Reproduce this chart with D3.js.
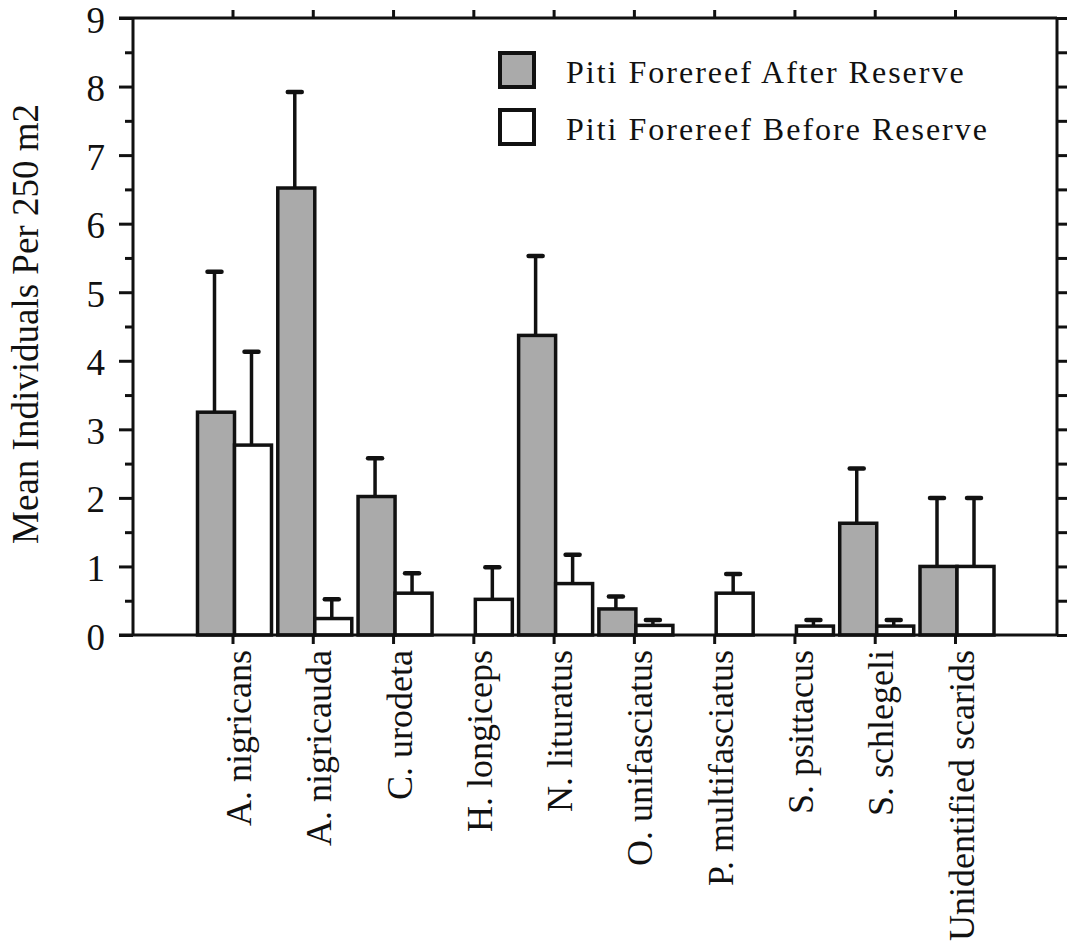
<!DOCTYPE html>
<html>
<head>
<meta charset="utf-8">
<script src="https://cdn.jsdelivr.net/npm/d3@7"></script>
<style>
  body { margin: 0; background: #fff; }
  text { font-family: "Liberation Serif", "Times New Roman", serif; fill: #111; }
</style>
</head>
<body>
<div id="chart"></div>
<script>
// species along the x axis
const species = ["A. nigricans", "A. nigricauda", "C. urodeta", "H. longiceps", "N. lituratus",
    "O. unifasciatus", "P. multifasciatus", "S. psittacus", "S. schlegeli", "Unidentified scarids"];

const seriesNames = ["Piti Forereef After Reserve", "Piti Forereef Before Reserve"];

// mean individuals per 250 m2 and the error (upper bar only)
const afterMean = [3.25, 6.52, 2.02, 0, 4.37, 0.38, 0, 0, 1.63, 1.0];
const afterErr = [2.05, 1.40, 0.56, 0, 1.16, 0.18, 0, 0, 0.80, 1.0];
const beforeMean = [2.77, 0.24, 0.61, 0.52, 0.75, 0.14, 0.61, 0.13, 0.13, 1.0];
const beforeErr = [1.36, 0.28, 0.29, 0.47, 0.42, 0.08, 0.28, 0.09, 0.09, 1.0];

const yTicks = [0, 1, 2, 3, 4, 5, 6, 7, 8, 9];
const yMinor = [0.5, 1.5, 2.5, 3.5, 4.5, 5.5, 6.5, 7.5, 8.5];

const W = 1070, H = 948;
const plotLeft = 133, plotRight = 1057, plotTop = 18, plotBottom = 635;

const svg = d3.select("#chart").append("svg")
    .attr("width", W)
    .attr("height", H);

const y = d3.scaleLinear().domain([0, 9]).range([plotBottom, plotTop]);
const x = d3.scalePoint().domain(species).range([232.5, 955]);
// bars sit slightly right of the category tick
const x1 = d3.scaleBand().domain(seriesNames).range([-35, 39]);

const fills = { [seriesNames[0]]: "#aaaaaa", [seriesNames[1]]: "#ffffff" };

const rows = [];
species.forEach((s, i) => {
    rows.push({ sp: s, series: seriesNames[0], v: afterMean[i], e: afterErr[i] });
    rows.push({ sp: s, series: seriesNames[1], v: beforeMean[i], e: beforeErr[i] });
});
const shown = rows.filter(d => d.v > 0);

// error bars first so the bar outline covers their foot
const err = svg.append("g").attr("stroke", "#111");
err.selectAll("line.stem")
    .data(shown)
    .join("line")
    .attr("class", "stem")
    .attr("x1", d => x(d.sp) + x1(d.series) + x1.bandwidth() / 2 - 1.5)
    .attr("x2", d => x(d.sp) + x1(d.series) + x1.bandwidth() / 2 - 1.5)
    .attr("y1", d => y(d.v))
    .attr("y2", d => y(d.v + d.e))
    .attr("stroke-width", 3.5);
err.selectAll("line.cap")
    .data(shown)
    .join("line")
    .attr("class", "cap")
    .attr("x1", d => x(d.sp) + x1(d.series) + x1.bandwidth() / 2 - 8.5)
    .attr("x2", d => x(d.sp) + x1(d.series) + x1.bandwidth() / 2 + 5.5)
    .attr("y1", d => y(d.v + d.e))
    .attr("y2", d => y(d.v + d.e))
    .attr("stroke-width", 4.5)
    .attr("stroke-linecap", "round");

svg.append("g")
    .selectAll("rect")
    .data(shown)
    .join("rect")
    .attr("x", d => x(d.sp) + x1(d.series))
    .attr("y", d => y(d.v))
    .attr("width", x1.bandwidth())
    .attr("height", d => y(0) - y(d.v))
    .attr("fill", d => fills[d.series])
    .attr("stroke", "#111")
    .attr("stroke-width", 3.5);

// frame
const frame = svg.append("g").attr("stroke", "#111").attr("stroke-width", 3);
frame.append("line").attr("x1", 119).attr("x2", plotRight).attr("y1", plotTop).attr("y2", plotTop);
frame.append("line").attr("x1", 119).attr("x2", plotRight).attr("y1", plotBottom).attr("y2", plotBottom);
frame.append("line").attr("x1", plotLeft).attr("x2", plotLeft).attr("y1", plotTop).attr("y2", plotBottom);
frame.append("line").attr("x1", plotRight).attr("x2", plotRight).attr("y1", plotTop).attr("y2", plotBottom);

// left axis, major ticks with labels
const yAxis = svg.append("g")
    .attr("transform", `translate(${plotLeft},0)`)
    .call(d3.axisLeft(y).tickValues(yTicks).tickSize(14).tickPadding(14).tickFormat(d3.format("d")));
yAxis.select(".domain").remove();
yAxis.selectAll(".tick line").attr("stroke", "#111").attr("stroke-width", 3);
yAxis.selectAll(".tick text")
    .attr("font-size", 37)
    .attr("dy", "0.38em")
    .attr("fill", "#111");

const yMinorAxis = svg.append("g")
    .attr("transform", `translate(${plotLeft},0)`)
    .call(d3.axisLeft(y).tickValues(yMinor).tickSize(8).tickFormat(""));
yMinorAxis.select(".domain").remove();
yMinorAxis.selectAll(".tick line").attr("stroke", "#111").attr("stroke-width", 3);

// right axis, ticks pointing outward
const yRight = svg.append("g")
    .attr("transform", `translate(${plotRight},0)`)
    .call(d3.axisRight(y).tickValues(yTicks.concat(yMinor)).tickSize(10).tickFormat(""));
yRight.select(".domain").remove();
yRight.selectAll(".tick line").attr("stroke", "#111").attr("stroke-width", 3);

// top axis ticks
const xTop = svg.append("g")
    .attr("transform", `translate(0,${plotTop})`)
    .call(d3.axisTop(x).tickSize(8).tickFormat(""));
xTop.select(".domain").remove();
xTop.selectAll(".tick line").attr("stroke", "#111").attr("stroke-width", 3);

// bottom axis, rotated labels
const xAxis = svg.append("g")
    .attr("transform", `translate(0,${plotBottom})`)
    .call(d3.axisBottom(x).tickSize(9));
xAxis.select(".domain").remove();
xAxis.selectAll(".tick line").attr("stroke", "#111").attr("stroke-width", 3);
xAxis.selectAll(".tick text")
    .attr("font-size", 36)
    .attr("fill", "#111")
    .attr("text-anchor", "end")
    .attr("dy", null)
    .attr("y", null)
    .attr("transform", "translate(18,15) rotate(-90)");

// y axis title
svg.append("text")
    .attr("transform", "translate(38,324) rotate(-90)")
    .attr("text-anchor", "middle")
    .attr("font-size", 37)
    .text("Mean Individuals Per 250 m2");

// legend
const legend = svg.append("g")
    .selectAll("g")
    .data(seriesNames)
    .join("g")
    .attr("transform", (d, i) => `translate(498,${51 + i * 57})`);
legend.append("rect")
    .attr("x", 2).attr("y", 2)
    .attr("width", 34).attr("height", 34)
    .attr("fill", d => fills[d])
    .attr("stroke", "#111")
    .attr("stroke-width", 4);
legend.append("text")
    .attr("x", 68)
    .attr("y", 32)
    .attr("font-size", 32)
    .attr("letter-spacing", 2)
    .text(d => d);
</script>
</body>
</html>
